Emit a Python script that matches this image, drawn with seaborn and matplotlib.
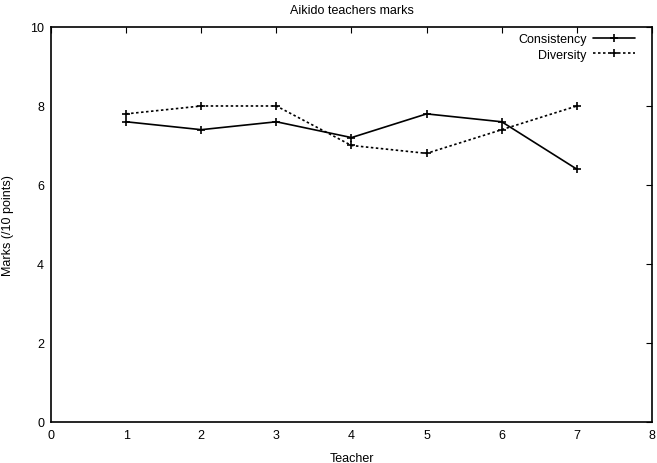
import pandas as pd
import seaborn as sns
import matplotlib.pyplot as plt

# notes
teachers = [1, 2, 3, 4, 5, 6, 7]
consistency = [7.6, 7.4, 7.6, 7.2, 7.8, 7.6, 6.4]
diversity = [7.8, 8.0, 8.0, 7.0, 6.8, 7.4, 8.0]

tabela = pd.DataFrame({
    'Teacher': teachers * 2,
    'Marks': consistency + diversity,
    'serie': ['Consistency'] * 7 + ['Diversity'] * 7,
})

sns.set_style('white')
plt.rcParams['font.family'] = ['Liberation Sans', 'DejaVu Sans']
plt.rcParams['text.color'] = 'black'
plt.rcParams['axes.labelcolor'] = 'black'
plt.rcParams['xtick.color'] = 'black'
plt.rcParams['ytick.color'] = 'black'
fs = 9

fig = plt.figure(figsize=(6.57, 4.64), dpi=100)
ax = fig.add_axes([0.0776, 0.0884, 0.9148, 0.8513])

sns.lineplot(data=tabela, x='Teacher', y='Marks', style='serie',
             dashes={'Consistency': '', 'Diversity': (1.5, 1.5)},
             markers={'Consistency': '+', 'Diversity': '+'},
             color='black', linewidth=1.2, markersize=6,
             markeredgewidth=1.2, markeredgecolor='black',
             ax=ax)

ax.set_xlim(0, 8)
ax.set_ylim(0, 10)
ax.set_xticks(range(0, 9))
ax.set_yticks(range(0, 11, 2))
ax.tick_params(direction='in', length=4, width=0.8, color='black',
               top=True, right=True, labelsize=fs, pad=5)
for s in ax.spines.values():
    s.set_color('black')
    s.set_linewidth(1.2)

ax.set_title('Aikido teachers marks', fontsize=fs, pad=10)
ax.set_xlabel('Teacher', fontsize=fs, labelpad=8)
ax.set_ylabel('Marks (/10 points)', fontsize=fs)
ax.yaxis.set_label_coords(-0.062, 0.5)

ax.legend(loc='upper right', bbox_to_anchor=(0.972, 0.985),
          markerfirst=False, frameon=False, fontsize=fs,
          handlelength=3.4, borderaxespad=0, borderpad=0,
          labelspacing=0.3, handletextpad=0.5)

fig.savefig('out.png', dpi=100)
